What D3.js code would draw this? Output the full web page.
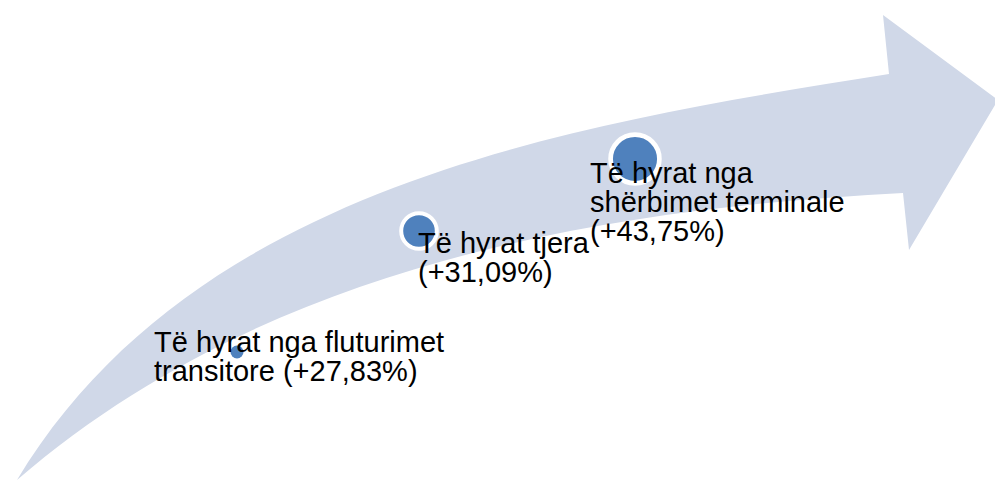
<!DOCTYPE html>
<html>
<head>
<meta charset="utf-8">
<script src="https://cdn.jsdelivr.net/npm/d3@7"></script>
<style>
  html, body { margin: 0; padding: 0; background: #ffffff; }
  svg { display: block; }
</style>
</head>
<body>
<div class="chart"></div>
<script>
// data
const labels = [
    "Të hyrat nga fluturimet transitore",
    "Të hyrat tjera",
    "Të hyrat nga shërbimet terminale"
];
const changes = [27.83, 31.09, 43.75];

const width = 995;
const height = 481;

// albanian style numbers: 27,83
const sq = d3.formatLocale({decimal: ",", thousands: ".", grouping: [3], currency: ["", " €"]});
const fmt = sq.format("+.2f");

// layout of the steps along the arrow (by step index)
const steps = d3.range(labels.length);
const cxScale = d3.scaleLinear().domain([0, 1, 2]).range([237, 419, 635]);
const cyScale = d3.scaleLinear().domain([0, 1, 2]).range([352, 231, 159]);
const rScale = d3.scaleLinear().domain([0, 1, 2]).range([6.5, 17.8, 24.4]);
const ringScale = d3.scaleLinear().domain([0, 1, 2]).range([0, 4, 4.7]);
const txScale = d3.scaleLinear().domain([0, 1, 2]).range([154, 418, 590]);
const tyScale = d3.scaleLinear().domain([0, 1, 2]).range([352, 253, 183]);
const wrapScale = d3.scaleLinear().domain([0, 1, 2]).range([300, 180, 262]);
const lineHeight = 29;

const svg = d3.select(".chart")
    .append("svg")
    .attr("width", width)
    .attr("height", height);

// the big curved arrow (smartart background shape)
const p = d3.path();
p.moveTo(17, 480);
p.bezierCurveTo(196, 183, 576, 124, 889, 74);   // upper edge
p.lineTo(883, 15);                               // arrow head
p.lineTo(998, 100);
p.lineTo(909, 250);
p.lineTo(903, 193);
p.bezierCurveTo(591, 209, 261, 269, 17, 480);   // lower edge
p.closePath();

svg.append("path")
    .attr("d", p.toString())
    .style("fill", "#d0d8e8");

// circles
svg.selectAll("circle")
    .data(steps)
    .enter()
    .append("circle")
    .attr("cx", i => cxScale(i))
    .attr("cy", i => cyScale(i))
    .attr("r", i => rScale(i))
    .style("fill", "#4f81bd")
    .style("stroke", "#ffffff")
    .style("stroke-width", i => ringScale(i));

// labels, wrapped like the smartart boxes
const texts = svg.selectAll("text.lbl")
    .data(steps)
    .enter()
    .append("text")
    .attr("class", "lbl")
    .attr("x", i => txScale(i))
    .attr("y", i => tyScale(i))
    .style("font-family", "'Liberation Sans', Arial, sans-serif")
    .style("font-size", "29px")
    .style("fill", "#000000");

texts.each(function (i) {
    const t = d3.select(this);
    const words = (labels[i] + " (" + fmt(changes[i]) + "%)").split(" ");
    const maxW = wrapScale(i);
    let line = [];
    let n = 0;
    let tspan = t.append("tspan").attr("x", txScale(i)).attr("y", tyScale(i));
    words.forEach(w => {
        line.push(w);
        tspan.text(line.join(" "));
        if (tspan.node().getComputedTextLength() > maxW && line.length > 1) {
            line.pop();
            tspan.text(line.join(" "));
            line = [w];
            n++;
            tspan = t.append("tspan")
                .attr("x", txScale(i))
                .attr("y", tyScale(i) + n * lineHeight)
                .text(w);
        }
    });
});
</script>
</body>
</html>
